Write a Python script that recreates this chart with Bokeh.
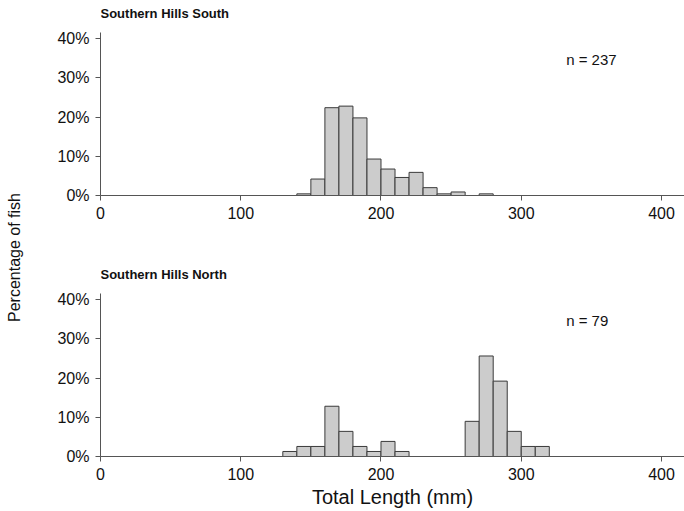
from math import pi
from bokeh.plotting import figure
from bokeh.layouts import row, column
from bokeh.models import Range1d, FixedTicker, Label
from bokeh.core.properties import value
from bokeh.embed import file_html
from bokeh.resources import INLINE

# ---- data ----
x_ticks = [0, 100, 200, 300, 400]
y_ticks = [0, 10, 20, 30, 40]
y_tick_labels = ["0%", "10%", "20%", "30%", "40%"]
bin_width = 10

south_title = "Southern Hills South"
south_n = "n = 237"
south_bins = [140, 150, 160, 170, 180, 190, 200, 210, 220, 230, 240, 250, 270]
south_pct = [0.42, 4.2, 22.4, 22.8, 19.8, 9.3, 6.75, 4.6, 5.9, 2.0, 0.42, 0.9, 0.42]

north_title = "Southern Hills North"
north_n = "n = 79"
north_bins = [130, 140, 150, 160, 170, 180, 190, 200, 210, 260, 270, 280, 290, 300, 310]
north_pct = [1.28, 2.56, 2.56, 12.82, 6.41, 2.56, 1.28, 3.85, 1.28, 8.97, 25.64, 19.23, 6.41, 2.56, 2.56]

x_label = "Total Length (mm)"
y_label = "Percentage of fish"

FONT = "Liberation Sans"
TXT = "#111111"
AX = "#555555"
PX_PER_PCT = 3.92
Y_AXIS_TOP = 41.7


def panel(title, ntext, bins, pct, height, frame_h, bottom, xlabel=None):
    p = figure(width=660, height=height, output_backend="svg", toolbar_location=None,
               x_range=Range1d(0, 416.4), y_range=Range1d(0, frame_h / PX_PER_PCT),
               min_border_left=76, min_border_right=0, min_border_top=0,
               min_border_bottom=bottom)
    p.outline_line_color = None
    p.grid.visible = False
    p.background_fill_color = "white"
    p.border_fill_color = "white"
    rights = [b + bin_width for b in bins]
    p.quad(left=bins, right=rights, bottom=0, top=pct,
           fill_color="#cccccc", line_color="#3a3a3a", line_width=1)
    for ax in (p.xaxis[0], p.yaxis[0]):
        ax.axis_line_color = AX
        ax.major_tick_line_color = AX
        ax.minor_tick_line_color = None
        ax.major_tick_in = 0
        ax.major_tick_out = 5
        ax.major_label_text_font = FONT
        ax.major_label_text_font_size = "16px"
        ax.major_label_text_color = TXT
    p.yaxis.bounds = (0, Y_AXIS_TOP)
    p.xaxis.ticker = FixedTicker(ticks=x_ticks)
    p.yaxis.ticker = FixedTicker(ticks=y_ticks)
    p.yaxis.major_label_overrides = {t: l for t, l in zip(y_ticks, y_tick_labels)}
    p.xaxis.major_label_standoff = 6
    p.yaxis.major_label_standoff = 6
    if xlabel:
        p.xaxis.axis_label = xlabel
        p.xaxis.axis_label_text_font = FONT
        p.xaxis.axis_label_text_font_size = "20px"
        p.xaxis.axis_label_text_font_style = "normal"
        p.xaxis.axis_label_text_color = TXT
        p.xaxis.axis_label_standoff = 3
    p.add_layout(Label(x=0, y=46.4, text=title, text_font=FONT, text_font_size="13px",
                       text_font_style="bold", text_color=TXT, text_baseline="middle",
                       text_align="left"))
    p.add_layout(Label(x=332, y=34.7, text=ntext, text_font=FONT, text_font_size="15px",
                       text_color=TXT, text_baseline="middle", text_align="left"))
    return p


top_p = panel(south_title, south_n, south_bins, south_pct, 240, 195, 45)
bot_p = panel(north_title, north_n, north_bins, north_pct, 271, 216, 55, x_label)

lab = figure(width=24, height=511, output_backend="svg", toolbar_location=None,
             x_range=Range1d(0, 24), y_range=Range1d(0, 511),
             min_border=0, min_border_left=0, min_border_right=0,
             min_border_top=0, min_border_bottom=0)
lab.axis.visible = False
lab.grid.visible = False
lab.outline_line_color = None
lab.text(x=[14], y=[254], text=[y_label], angle=pi / 2, text_align="center",
         text_baseline="middle", text_font=value(FONT), text_font_size="16px",
         text_color=TXT)

layout = row(lab, column(top_p, bot_p))
open("out.html", "w").write(file_html(layout, INLINE))
